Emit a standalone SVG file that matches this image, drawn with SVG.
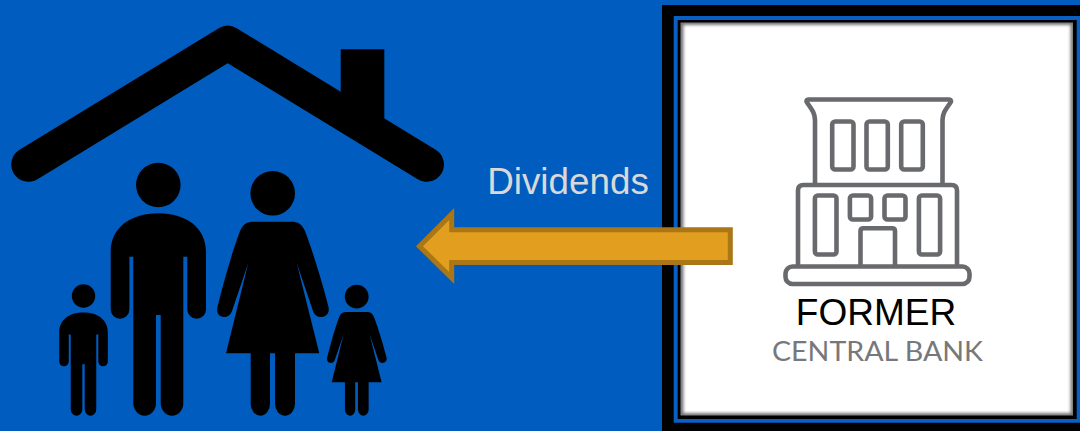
<svg xmlns="http://www.w3.org/2000/svg" width="1080" height="431" viewBox="0 0 1080 431">
<style>
.ink{fill:#000}
.ln{fill:none;stroke:#696a6d;stroke-width:4.600;stroke-linejoin:round}
.frameBlue{fill:#0a5fc4}
</style>
<defs>
<filter id="soft" x="-5%" y="-5%" width="110%" height="110%"><feGaussianBlur stdDeviation="1.800"/></filter>
<path id="man" class="ink" d="M110.700 252C110.700 228 130 213.300 158.300 213.300S206 228 206 252V309.500a9.300 9.300 0 0 1-18.700 0V256.700H183.300V403a11.300 12.700 0 0 1-22.600 0V315H156V403a11.350 12.700 0 0 1-22.700 0V256.700H129.400V309.500a9.300 9.300 0 0 1-18.700 0Z"/>
<path id="woman" class="ink" d="M254 221.700H291C298 221.700 302 224 305 231C314 255 323 285 328.500 307C330 314 325 317 321 317C317 317 314.500 315 313 311L296.700 263 319.300 353.300H295V404a10 11.700 0 0 1-20 0V353.300H270V404a9.650 11.700 0 0 1-19.300 0V353.300H226L248.300 263 232 311C230.500 315 228 317 224 317C220 317 216 314 217.500 307C223 285 231 255 240 231C243 224 247 221.700 254 221.700Z"/>
</defs>
<rect width="1080" height="431" fill="#005dbf"/>
<g id="family-house">
<path d="M28.500 164.500L227.700 43L426.700 164.500" fill="none" stroke="#000" stroke-width="34.500" stroke-linecap="round" stroke-linejoin="round"/>
<polygon class="ink" points="340.700,49.300 384.300,49.300 384.300,125 340.700,100"/>
<circle class="ink" cx="158.300" cy="185" r="22.300"/>
<use href="#man"/>
<circle class="ink" cx="272.700" cy="193.300" r="22.300"/>
<use href="#woman"/>
<circle class="ink" cx="83.500" cy="296" r="11.700"/>
<use href="#man" transform="translate(83.500 415.700) scale(.51) translate(-158.300 -415.700)"/>
<circle class="ink" cx="356.700" cy="296.700" r="11.900"/>
<use href="#woman" transform="translate(356.700 415.700) scale(.535) translate(-272.700 -415.700)"/>
</g>
<g id="former-central-bank">
<rect x="662" y="5" width="418" height="426" fill="#000"/>
<path class="frameBlue" fill-rule="evenodd" d="M673.700 16H1080V422.700H673.700ZM677.700 20V419H1076.700V20Z"/>
<rect x="680.500" y="22.500" width="392.500" height="393" fill="#777"/>
<rect x="683.500" y="25" width="387" height="388" fill="#fff" filter="url(#soft)"/>
<path class="ln" d="M808 99.500H949.500C951 99.500 951.500 101 950.500 102.500C946 109 942.500 113 942.500 120V184M808 99.500C806.500 99.500 806 101 807 102.500C811.500 109 815 113 815 120V184"/>
<rect class="ln" x="832.200" y="121.500" width="21.300" height="48" rx="3"/>
<rect class="ln" x="866.500" y="121.500" width="21.300" height="48" rx="3"/>
<rect class="ln" x="901.200" y="121.500" width="21.600" height="48" rx="3"/>
<path class="ln" d="M798 266V190.500Q798 185 803.500 185H951.500Q957 185 957 190.500V266"/>
<rect class="ln" x="814.900" y="195.500" width="21.600" height="59" rx="3"/>
<rect class="ln" x="849.900" y="195.500" width="21.200" height="24" rx="3"/>
<rect class="ln" x="884.500" y="195.500" width="21" height="24" rx="3"/>
<rect class="ln" x="918.900" y="195.500" width="21.200" height="59" rx="3"/>
<path class="ln" d="M860.500 266V231Q860.500 228.200 863.500 228.200H892Q895 228.200 895 231V266"/>
<rect class="ln" x="785.500" y="266.500" width="184" height="17.500" rx="7"/>
<text x="876" y="325" text-anchor="middle" font-family="'Liberation Sans',Arial,sans-serif" font-size="37" fill="#000">FORMER</text>
<text x="877.500" y="360.700" text-anchor="middle" font-family="Lato,'Open Sans',sans-serif" font-size="26" fill="#77787b" textLength="211" lengthAdjust="spacingAndGlyphs">CENTRAL BANK</text>
</g>
<g id="connectors">
<path d="M730.300 229.800V262.500H451.700V278L419.500 246.300L451.700 214V229.800Z" fill="#e29e1e" stroke="#ab7615" stroke-width="5"/>
<text x="568" y="194.300" text-anchor="middle" font-family="'Liberation Sans',Arial,sans-serif" font-size="36.800" fill="#d9d9d9">Dividends</text>
</g>
</svg>
